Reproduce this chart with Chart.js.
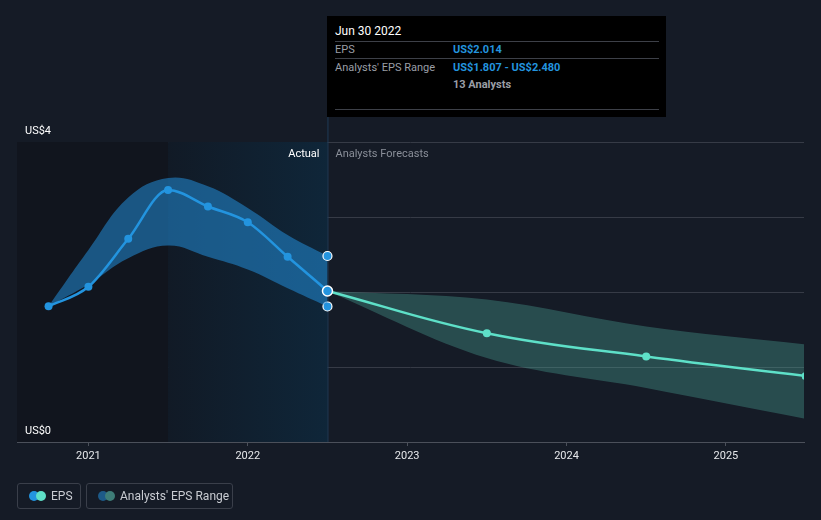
<!DOCTYPE html>
<html lang="en">
<head>
    <meta charset="UTF-8">
    <title>EPS Actual vs Analysts Forecasts</title>
    <script src="https://cdn.jsdelivr.net/npm/chart.js@4.4.0/dist/chart.umd.min.js"></script>
    <style>
        html, body {
            margin: 0;
            padding: 0;
            background-color: #151b26;
            font-family: Roboto, "Noto Sans", sans-serif;
        }
        .wrap {
            position: relative;
            width: 821px;
            height: 520px;
            overflow: hidden;
        }
        canvas { position: absolute; left: 0; top: 0; }
        .tip {
            position: absolute;
            left: 327px;
            top: 16px;
            width: 339px;
            height: 101px;
            background: #000;
            font-size: 11px;
            color: #9a9ea6;
        }
        .tip .date { position: absolute; left: 8px; top: 8px; color: #fff; font-size: 12px; }
        .tip .rule { position: absolute; left: 8px; right: 7px; height: 1px; background: #3d4048; }
        .tip .lbl { position: absolute; left: 8px; }
        .tip .val { position: absolute; left: 126px; color: #2394df; font-weight: bold; }
        .legend {
            position: absolute;
            top: 483px;
            height: 26px;
            border: 1px solid #3a3f4a;
            border-radius: 3px;
            box-sizing: border-box;
            color: #c9ccd2;
            font-size: 12px;
            line-height: 24px;
        }
        .legend .dot {
            position: absolute;
            top: 7px;
            width: 10px;
            height: 10px;
            border-radius: 50%;
        }
    </style>
</head>
<body>
<div class="wrap">
    <canvas id="epsChart" width="821" height="520"></canvas>

    <!-- tooltip box for the last actual quarter -->
    <div class="tip">
        <div class="date">Jun 30 2022</div>
        <div class="rule" style="top:25px"></div>
        <div class="lbl" style="top:27px">EPS</div>
        <div class="val" style="top:27px">US$2.014</div>
        <div class="rule" style="top:42px"></div>
        <div class="lbl" style="top:45px">Analysts' EPS Range</div>
        <div class="val" style="top:45px">US$1.807 - US$2.480</div>
        <div class="val" style="top:62px; color:#9a9ea6">13 Analysts</div>
        <div class="rule" style="top:93px"></div>
    </div>

    <div class="legend" style="left:17px; width:64px">
        <span class="dot" style="left:11px; background:#2394df"></span>
        <span class="dot" style="left:18px; background:#5ee0c8"></span>
        <span style="position:absolute; left:33px">EPS</span>
    </div>
    <div class="legend" style="left:86px; width:147px">
        <span class="dot" style="left:11px; background:#1d5a88"></span>
        <span class="dot" style="left:18px; background:#3e7d78"></span>
        <span style="position:absolute; left:33px">Analysts' EPS Range</span>
    </div>
</div>

<script>
    // actual EPS (quarter ends) and analysts range
    const actualDates = ["2020-09-30", "2020-12-31", "2021-03-31", "2021-06-30", "2021-09-30", "2021-12-31", "2022-03-31", "2022-06-30"];
    const actualEps  = [1.81, 2.07, 2.71, 3.36, 3.14, 2.93, 2.47, 2.014];
    const actualLow  = [1.81, 2.10, 2.45, 2.62, 2.47, 2.30, 2.05, 1.807];
    const actualHigh = [1.81, 2.56, 3.26, 3.52, 3.41, 3.12, 2.76, 2.48];

    // analysts forecasts
    const forecastDates = ["2022-06-30", "2023-06-30", "2024-06-30", "2025-06-30"];
    const forecastEps  = [2.014, 1.45, 1.14, 0.88];
    const forecastLow  = [2.014, 1.12, 0.72, 0.31];
    const forecastHigh = [2.014, 1.90, 1.54, 1.30];

    const yTickLabels = ["US$0", "US$4"];
    const yearTicks = [2021, 2022, 2023, 2024, 2025];

    // "2021-06-30" -> 2021.5
    function toYear(d) {
        const parts = d.split("-");
        return parseInt(parts[0]) + parseInt(parts[1]) / 12;
    }
    function pts(dates, values) {
        return dates.map((d, i) => ({ x: toYear(d), y: values[i] }));
    }

    const lastActual = toYear(actualDates[actualDates.length - 1]);
    const pastYearStart = lastActual - 1;
    const blue = '#2394df';
    const teal = '#5ee0c8';

    function lastOnly(n, big, rest) {
        return Array.from({ length: n }, (_, i) => i === n - 1 ? big : rest);
    }

    const backdrop = {
        id: 'backdrop',
        beforeDatasetsDraw(chart) {
            const { ctx, chartArea, scales } = chart;
            const xa = scales.x;
            const xPast = xa.getPixelForValue(pastYearStart);
            const xNow = xa.getPixelForValue(lastActual);
            ctx.save();
            ctx.fillStyle = '#11151e';
            ctx.fillRect(chartArea.left, chartArea.top, xPast - chartArea.left, chartArea.bottom - chartArea.top);
            const g = ctx.createLinearGradient(xPast, 0, xNow, 0);
            g.addColorStop(0, '#111a26');
            g.addColorStop(1, '#0f2639');
            ctx.fillStyle = g;
            ctx.fillRect(xPast, chartArea.top, xNow - xPast, chartArea.bottom - chartArea.top);

            ctx.strokeStyle = '#1f3b57';
            ctx.lineWidth = 1;
            ctx.beginPath();
            ctx.moveTo(xNow + 0.5, 117);
            ctx.lineTo(xNow + 0.5, chartArea.bottom);
            ctx.stroke();

            ctx.font = '11px Roboto';
            ctx.textBaseline = 'middle';
            ctx.textAlign = 'right';
            ctx.fillStyle = '#ffffff';
            ctx.fillText('Actual', xNow - 8, chartArea.top + 12);
            ctx.textAlign = 'left';
            ctx.fillStyle = '#8a8f99';
            ctx.fillText('Analysts Forecasts', xNow + 8, chartArea.top + 12);

            // y labels sit just above their gridline
            ctx.fillStyle = '#ffffff';
            ctx.textBaseline = 'bottom';
            ctx.fillText(yTickLabels[0], chartArea.left + 8, scales.y.getPixelForValue(0) - 5);
            ctx.fillText(yTickLabels[1], chartArea.left + 8, scales.y.getPixelForValue(4) - 5);
            ctx.restore();
        }
    };

    const ctx = document.getElementById('epsChart').getContext('2d');
    new Chart(ctx, {
        type: 'line',
        data: {
            datasets: [
                {
                    label: 'EPS',
                    data: pts(actualDates, actualEps),
                    borderColor: blue,
                    backgroundColor: blue,
                    borderWidth: 2.5,
                    cubicInterpolationMode: 'monotone',
                    pointRadius: lastOnly(actualDates.length, 5, 4),
                    pointBorderWidth: lastOnly(actualDates.length, 1.5, 0),
                    pointBorderColor: lastOnly(actualDates.length, '#ffffff', blue),
                    fill: false,
                    clip: 8,
                    order: 0
                },
                {
                    label: 'Forecast',
                    data: pts(forecastDates, forecastEps),
                    borderColor: teal,
                    backgroundColor: teal,
                    borderWidth: 2.5,
                    tension: 0.4,
                    pointRadius: [0, 4, 4, 4],
                    pointBorderWidth: 0,
                    fill: false,
                    order: 1
                },
                {
                    label: 'Range high',
                    data: pts(actualDates, actualHigh),
                    borderWidth: 0,
                    tension: 0.4,
                    backgroundColor: 'rgba(35,140,215,0.55)',
                    fill: '+1',
                    pointRadius: lastOnly(actualDates.length, 4.5, 0),
                    pointBackgroundColor: blue,
                    pointBorderColor: '#ffffff',
                    pointBorderWidth: 1.2,
                    clip: 8,
                    order: 2
                },
                {
                    label: 'Range low',
                    data: pts(actualDates, actualLow),
                    borderWidth: 0,
                    tension: 0.4,
                    fill: false,
                    pointRadius: lastOnly(actualDates.length, 4.5, 0),
                    pointBackgroundColor: blue,
                    pointBorderColor: '#ffffff',
                    pointBorderWidth: 1.2,
                    clip: 8,
                    order: 2
                },
                {
                    label: 'Forecast high',
                    data: pts(forecastDates, forecastHigh),
                    borderWidth: 0,
                    tension: 0.35,
                    backgroundColor: 'rgba(78,170,155,0.35)',
                    fill: '+1',
                    pointRadius: 0,
                    order: 3
                },
                {
                    label: 'Forecast low',
                    data: pts(forecastDates, forecastLow),
                    borderWidth: 0,
                    tension: 0.35,
                    fill: false,
                    pointRadius: 0,
                    order: 3
                }
            ]
        },
        options: {
            responsive: false,
            animation: false,
            events: [],
            layout: { padding: { top: 142, left: 17, right: 17, bottom: 0 } },
            plugins: {
                legend: { display: false },
                tooltip: { enabled: false }
            },
            scales: {
                x: {
                    type: 'linear',
                    min: 2020.552,
                    max: 2025.49,
                    afterBuildTicks(scale) {
                        scale.ticks = yearTicks.map(v => ({ value: v }));
                    },
                    afterFit(scale) { scale.height = 78; },
                    grid: {
                        drawOnChartArea: false,
                        drawTicks: true,
                        tickLength: 4,
                        color: '#4b505a'
                    },
                    border: { color: '#4b505a', width: 1 },
                    ticks: {
                        color: '#e6e8eb',
                        font: { family: 'Roboto', size: 11 },
                        padding: 4,
                        maxRotation: 0,
                        callback: v => String(v)
                    }
                },
                y: {
                    min: 0,
                    max: 4,
                    afterFit(scale) { scale.width = 0; },
                    ticks: { display: false, stepSize: 1 },
                    grid: { color: '#363b46', drawTicks: false },
                    border: { display: false }
                }
            }
        },
        plugins: [backdrop]
    });
</script>
</body>
</html>
